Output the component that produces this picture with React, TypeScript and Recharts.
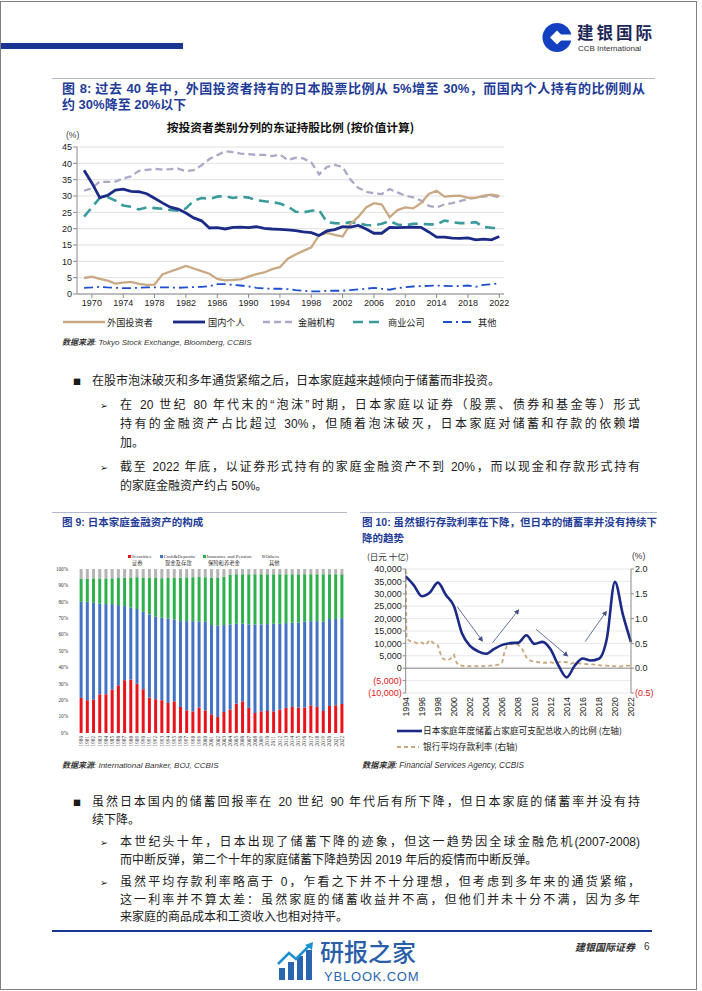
import React from 'react';
import { LineChart, Line, XAxis, YAxis, CartesianGrid, BarChart, Bar, ReferenceLine } from 'recharts';

const CJK = "'Noto Sans CJK SC', sans-serif";
const LAT = "'Liberation Sans', 'Noto Sans CJK SC', sans-serif";
const SERIF = "'Liberation Serif', 'Noto Sans CJK SC', serif";
const TITLE_BLUE = '#1f3c98';

// ---------------- Figure 8 data ----------------
const fig8Years = [1969, 1970, 1971, 1972, 1973, 1974, 1975, 1976, 1977, 1978, 1979, 1980, 1981, 1982, 1983, 1984, 1985, 1986, 1987, 1988, 1989, 1990, 1991, 1992, 1993, 1994, 1995, 1996, 1997, 1998, 1999, 2000, 2001, 2002, 2003, 2004, 2005, 2006, 2007, 2008, 2009, 2010, 2011, 2012, 2013, 2014, 2015, 2016, 2017, 2018, 2019, 2020, 2021, 2022];
const fig8XTicks = [1970, 1974, 1978, 1982, 1986, 1990, 1994, 1998, 2002, 2006, 2010, 2014, 2018, 2022];
const fig8YTicks = [0, 5, 10, 15, 20, 25, 30, 35, 40, 45];
const foreignInvestors = [4.9, 5.3, 4.6, 4.1, 3.2, 3.5, 3.7, 3.1, 2.8, 2.9, 6.0, 6.9, 7.7, 8.6, 7.8, 7.0, 6.2, 4.6, 4.2, 4.3, 4.5, 5.3, 6.1, 6.6, 7.6, 8.2, 10.8, 12.1, 13.2, 14.3, 18.0, 18.7, 18.1, 17.6, 21.4, 23.6, 26.5, 27.8, 27.4, 23.5, 25.7, 26.5, 26.2, 27.8, 30.6, 31.6, 29.8, 30.0, 30.1, 29.4, 29.4, 30.1, 30.4, 30.0];
const domesticIndividuals = [37.9, 34.0, 29.5, 30.2, 31.8, 32.1, 31.4, 31.3, 30.7, 29.3, 27.9, 26.6, 26.0, 24.8, 23.3, 22.4, 20.2, 20.3, 19.9, 20.4, 20.5, 20.3, 20.6, 20.1, 19.9, 19.8, 19.6, 19.4, 19.0, 18.8, 17.9, 19.3, 19.7, 20.6, 20.5, 21.0, 19.9, 18.6, 18.6, 20.4, 20.3, 20.4, 20.5, 20.4, 19.0, 17.4, 17.4, 17.1, 17.0, 17.2, 16.6, 16.8, 16.6, 17.6];
const financialInstitutions = [31.6, 32.4, 34.4, 34.3, 34.4, 35.4, 36.0, 37.7, 38.0, 38.3, 38.1, 38.2, 38.4, 37.6, 37.9, 39.4, 41.3, 42.5, 43.7, 43.4, 43.0, 42.8, 42.6, 42.6, 42.2, 42.7, 41.0, 41.7, 41.5, 40.3, 36.6, 38.9, 39.5, 38.9, 35.0, 32.5, 31.3, 30.8, 30.6, 32.1, 31.1, 30.1, 29.6, 28.6, 27.0, 26.5, 27.4, 27.8, 28.4, 29.1, 29.4, 29.8, 30.1, 29.6];
const businessCorporations = [23.7, 26.5, 29.4, 29.7, 28.6, 27.1, 26.7, 25.9, 26.5, 26.3, 26.1, 25.7, 25.5, 26.2, 28.6, 29.4, 29.1, 29.8, 30.0, 29.4, 29.8, 29.5, 28.7, 28.4, 28.1, 27.7, 26.8, 25.2, 25.0, 25.5, 25.7, 22.0, 21.7, 21.5, 22.0, 21.7, 21.1, 21.0, 21.5, 22.3, 21.3, 21.0, 21.5, 21.5, 21.3, 21.3, 22.5, 22.0, 21.7, 21.7, 22.0, 20.5, 20.3, 19.9];
const otherHolders = [1.9, 2.0, 2.2, 2.0, 1.9, 1.8, 1.8, 1.9, 2.0, 2.0, 2.0, 2.0, 1.9, 2.0, 2.1, 2.2, 2.4, 3.0, 3.0, 2.8, 2.6, 2.3, 1.9, 1.7, 1.6, 1.6, 1.5, 1.2, 1.0, 0.8, 0.8, 1.0, 1.0, 1.0, 1.2, 1.4, 1.6, 1.9, 1.6, 1.3, 1.8, 2.1, 2.3, 2.4, 2.5, 2.6, 2.5, 2.4, 2.4, 2.6, 2.2, 2.8, 3.0, 3.3];
const fig8Names = ['外国投资者', '国内个人', '金融机构', '商业公司', '其他'];

// ---------------- Figure 9 data ----------------
const fig9Years = ['1980', '1981', '1982', '1983', '1984', '1985', '1986', '1987', '1988', '1989', '1990', '1991', '1992', '1993', '1994', '1995', '1996', '1997', '1998', '1999', '2000', '2001', '2002', '2003', '2004', '2005', '2006', '2007', '2008', '2009', '2010', '2011', '2012', '2013', '2014', '2015', '2016', '2017', '2018', '2019', '2020', '2021', '2022'];
const securities = [21.4, 20.0, 20.4, 23.6, 23.6, 26.5, 29.1, 32.2, 32.6, 30.1, 26.7, 21.6, 20.6, 20.0, 18.3, 19.3, 15.9, 13.8, 13.2, 15.5, 13.8, 11.4, 9.8, 12.8, 14.3, 17.9, 19.3, 15.3, 12.2, 13.2, 13.4, 13.2, 14.3, 15.3, 15.9, 15.5, 15.5, 16.9, 15.9, 13.4, 16.5, 16.9, 17.7];
const cashDeposits = [58.6, 60.0, 59.0, 55.4, 55.0, 52.1, 48.9, 45.2, 44.0, 45.5, 47.2, 50.7, 50.3, 50.3, 51.6, 49.9, 52.3, 54.4, 55.0, 52.3, 54.0, 54.4, 55.6, 53.0, 51.9, 48.7, 47.5, 50.9, 54.0, 53.0, 53.0, 53.4, 52.3, 51.7, 51.3, 51.9, 52.3, 51.3, 52.3, 54.4, 53.0, 52.6, 52.3];
const insurancePension = [14.0, 14.0, 14.9, 15.3, 15.7, 15.7, 16.5, 17.2, 18.2, 19.4, 20.9, 22.3, 23.6, 24.1, 24.6, 25.4, 26.5, 26.7, 26.8, 27.3, 27.2, 29.0, 29.1, 29.4, 30.3, 30.2, 30.0, 30.6, 30.6, 30.6, 30.4, 30.2, 30.2, 29.8, 29.6, 29.4, 29.0, 28.6, 28.6, 29.0, 27.3, 27.3, 26.8];
const otherAssets = [6.0, 6.0, 5.7, 5.7, 5.7, 5.7, 5.5, 5.4, 5.2, 5.0, 5.2, 5.4, 5.5, 5.6, 5.5, 5.4, 5.3, 5.1, 5.0, 4.9, 5.0, 5.2, 5.5, 4.8, 3.5, 3.2, 3.2, 3.2, 3.2, 3.2, 3.2, 3.2, 3.2, 3.2, 3.2, 3.2, 3.2, 3.2, 3.2, 3.2, 3.2, 3.2, 3.2];
const fig9YTicks = [0, 10, 20, 30, 40, 50, 60, 70, 80, 90, 100];

// ---------------- Figure 10 data ----------------
const fig10Years = [1994, 1995, 1996, 1997, 1998, 1999, 2000, 2001, 2002, 2003, 2004, 2005, 2006, 2007, 2008, 2009, 2010, 2011, 2012, 2013, 2014, 2015, 2016, 2017, 2018, 2019, 2020, 2021, 2022];
const householdSavings = [37000, 33500, 29000, 30500, 34500, 29500, 25000, 14000, 9000, 6800, 5800, 7800, 9400, 10100, 10300, 13300, 9800, 10600, 7600, 1000, -3700, 1000, 3900, 3100, 3800, 12000, 34800, 21500, 10500];
const rateDates = [1994.0, 1994.1, 1994.5, 1995.0, 1995.5, 1996.0, 1996.5, 1997.0, 1997.5, 1998.0, 1998.3, 1998.6, 1999.0, 1999.5, 2000.0, 2000.3, 2000.6, 2001.0, 2001.5, 2002.0, 2002.5, 2003.0, 2003.5, 2004.0, 2004.5, 2005.0, 2005.5, 2006.0, 2006.3, 2006.6, 2007.0, 2007.5, 2008.0, 2008.5, 2009.0, 2009.5, 2010.0, 2010.5, 2011.0, 2011.5, 2012.0, 2012.5, 2013.0, 2013.5, 2014.0, 2014.5, 2015.0, 2015.5, 2016.0, 2016.5, 2017.0, 2017.5, 2018.0, 2018.5, 2019.0, 2019.5, 2020.0, 2020.5, 2021.0, 2021.5, 2022.0];
const depositRate = [1.98, 0.60, 0.55, 0.53, 0.50, 0.52, 0.47, 0.57, 0.50, 0.46, 0.30, 0.20, 0.16, 0.18, 0.27, 0.12, 0.06, 0.05, 0.04, 0.04, 0.04, 0.04, 0.04, 0.04, 0.05, 0.05, 0.07, 0.12, 0.35, 0.45, 0.48, 0.50, 0.47, 0.38, 0.22, 0.15, 0.13, 0.12, 0.11, 0.11, 0.12, 0.10, 0.12, 0.13, 0.12, 0.09, 0.11, 0.10, 0.09, 0.08, 0.08, 0.07, 0.06, 0.05, 0.05, 0.04, 0.04, 0.03, 0.04, 0.05, 0.05];
const fig10XTicks = [1994, 1996, 1998, 2000, 2002, 2004, 2006, 2008, 2010, 2012, 2014, 2016, 2018, 2020, 2022];
const fig10LeftTicks = [-10000, -5000, 0, 5000, 10000, 15000, 20000, 25000, 30000, 35000, 40000];
const fig10RightTicks = [-0.5, 0, 0.5, 1.0, 1.5, 2.0];
const trendArrows = [
  { x1: 2000.4, y1: 24800, x2: 2003.6, y2: 10700 },
  { x1: 2004.8, y1: 10300, x2: 2008.1, y2: 23800 },
  { x1: 2010.2, y1: 15700, x2: 2014.2, y2: 4700 },
  { x1: 2016.3, y1: 10700, x2: 2019.0, y2: 23200 },
];

const fig8Data = fig8Years.map((yr, i) => ({
  year: yr,
  fi: foreignInvestors[i],
  di: domesticIndividuals[i],
  fin: financialInstitutions[i],
  bc: businessCorporations[i],
  oth: otherHolders[i],
}));
const fig9Data = fig9Years.map((yr, i) => ({
  year: yr,
  sec: securities[i],
  cash: cashDeposits[i],
  ins: insurancePension[i],
  oth: otherAssets[i],
}));
const savingsData = fig10Years.map((yr, i) => ({ x: yr, y: householdSavings[i] }));
const rateData = rateDates.map((d, i) => ({ x: d, y: depositRate[i] }));

// ---------------- helpers ----------------
function Txt({ x, y, size, lh, children, style }: any) {
  const h = lh || Math.round(size * 1.4);
  return (
    <div
      style={{
        position: 'absolute',
        left: x,
        top: y - h / 2,
        fontSize: size,
        lineHeight: h + 'px',
        whiteSpace: 'nowrap',
        fontFamily: LAT,
        color: '#1a1a1a',
        ...style,
      }}
    >
      {children}
    </div>
  );
}

const BODY = 12;

function JLine({ x, y, w, size, children, style }: any) {
  return (
    <Txt x={x} y={y} size={size || BODY} style={{ width: w, textAlign: 'justify', textAlignLast: 'justify', whiteSpace: 'nowrap', ...style }}>
      {children}
    </Txt>
  );
}

function LegendSample({ x, y, w, color, width, dash }: any) {
  return (
    <svg style={{ position: 'absolute', left: x, top: y - 5 }} width={w} height={10}>
      <line x1={0} y1={5} x2={w} y2={5} stroke={color} strokeWidth={width} strokeDasharray={dash} />
    </svg>
  );
}

const fmtThousands = (v: number) => {
  const a = Math.abs(v);
  const s = a >= 1000 ? Math.floor(a / 1000) + ',' + String(a % 1000).padStart(3, '0') : String(a);
  return v < 0 ? '(' + s + ')' : s;
};

const Fig10LeftTick = (p: any) => {
  const v = p.payload.value;
  return (
    <text x={p.x} y={p.y} dy="0.35em" textAnchor="end" fontSize={9} fontFamily={LAT} fill={v < 0 ? '#e0201c' : '#222'}>
      {fmtThousands(v)}
    </text>
  );
};
const Fig10RightTick = (p: any) => {
  const v = p.payload.value;
  const s = v < 0 ? '(' + Math.abs(v).toFixed(1) + ')' : v.toFixed(1);
  return (
    <text x={p.x} y={p.y} dy="0.35em" textAnchor="start" fontSize={9} fontFamily={LAT} fill={v < 0 ? '#e0201c' : '#222'}>
      {s}
    </text>
  );
};
const Fig10XTick = (p: any) => (
  <text transform={`translate(${p.x},${p.y}) rotate(-90)`} dy="0.35em" textAnchor="end" fontSize={8.8} fontFamily={LAT} fill="#222">
    {p.payload.value}
  </text>
);
const Fig9XTick = (p: any) => (
  <text transform={`translate(${p.x},${p.y}) rotate(-90)`} dy="0.35em" textAnchor="end" fontSize={5.2} fontFamily={SERIF} fill="#333">
    {p.payload.value}
  </text>
);

const arrowShape = (props: any) => {
  const { x1, y1, x2, y2 } = props;
  const dx = x2 - x1;
  const dy = y2 - y1;
  const len = Math.sqrt(dx * dx + dy * dy) || 1;
  const ux = dx / len;
  const uy = dy / len;
  const hl = 5;
  const hw = 2.6;
  const bx = x2 - ux * hl;
  const by = y2 - uy * hl;
  const pts = `${x2},${y2} ${bx - uy * hw},${by + ux * hw} ${bx + uy * hw},${by - ux * hw}`;
  return (
    <g>
      <line x1={x1} y1={y1} x2={bx} y2={by} stroke="#3d4b86" strokeWidth={0.8} />
      <polygon points={pts} fill="#3d4b86" />
    </g>
  );
};

const ARROW_FONT = { fontFamily: "'DejaVu Sans', sans-serif" };

// ---------------- App ----------------
export default function App() {
  return (
    <div style={{ position: 'absolute', left: 0, top: 0, width: 702, height: 991, background: '#fff', overflow: 'hidden', fontFamily: LAT }}>
      {/* page frame */}
      <div style={{ position: 'absolute', left: 0, top: 1, width: 697, height: 989, border: '1.5px solid #808080', boxSizing: 'border-box' }} />

      {/* header */}
      <div style={{ position: 'absolute', left: 1, top: 43, width: 182, height: 5.5, background: '#1a3591' }} />
      <svg style={{ position: 'absolute', left: 542, top: 21 }} width={30} height={33}>
        <circle cx={15} cy={16.5} r={14.5} fill="#1240c0" />
        <rect x={15} y={13.5} width={16} height={6} fill="#fff" />
        <polygon points="15,9.5 22,16.5 15,23.5 8,16.5" fill="#fff" />
      </svg>
      <Txt x={577} y={31.5} size={16.5} lh={16} style={{ fontFamily: CJK, fontWeight: 700, letterSpacing: 3, color: '#1c2756' }}>建银国际</Txt>
      <Txt x={578} y={48.5} size={8} lh={8} style={{ color: '#333' }}>CCB International</Txt>

      {/* Figure 8 */}
      <div style={{ position: 'absolute', left: 52, top: 77.5, width: 603, height: 1.3, background: '#b3b8cc' }} />
      <JLine x={62} y={88.5} w={583} size={13} style={{ fontWeight: 700, color: TITLE_BLUE }}>
        图 8: 过去 40 年中，外国投资者持有的日本股票比例从 5%增至 30%，而国内个人持有的比例则从
      </JLine>
      <Txt x={62} y={105} size={13} style={{ fontWeight: 700, color: TITLE_BLUE }}>
        约 30%降至 20%以下
      </Txt>
      <div style={{ position: 'absolute', left: 77, width: 427, top: 118, textAlign: 'center', fontSize: 11.8, lineHeight: '18px', fontWeight: 700, fontFamily: CJK, color: '#111' }}>
        按投资者类别分列的东证持股比例 (按价值计算)
      </div>
      <Txt x={66} y={135} size={8.5} style={{ color: '#444' }}>(%)</Txt>
      <div style={{ position: 'absolute', left: 50, top: 135 }}>
        <LineChart width={470} height={180} data={fig8Data} margin={{ top: 12, right: 16, left: 0, bottom: 0 }}>
          <CartesianGrid vertical={false} stroke="#d9d9d9" strokeWidth={0.8} />
          <XAxis
            dataKey="year"
            type="number"
            domain={[1968.1, 2022.6]}
            ticks={fig8XTicks}
            interval={0}
            height={21}
            tickSize={4}
            tickMargin={2}
            stroke="#8a8a8a"
            tick={{ fontSize: 9, fill: '#222', fontFamily: LAT }}
          />
          <YAxis
            domain={[0, 45]}
            ticks={fig8YTicks}
            interval={0}
            width={27}
            tickSize={4}
            tickMargin={1}
            stroke="#8a8a8a"
            tick={{ fontSize: 9, fill: '#222', fontFamily: LAT }}
          />
          <Line type="linear" dataKey="fin" name={fig8Names[2]} stroke="#a9a9c8" strokeWidth={2.3} strokeDasharray="7 4" dot={false} isAnimationActive={false} />
          <Line type="linear" dataKey="bc" name={fig8Names[3]} stroke="#3a9a9c" strokeWidth={2.6} strokeDasharray="10 6" dot={false} isAnimationActive={false} />
          <Line type="linear" dataKey="oth" name={fig8Names[4]} stroke="#1d4fd0" strokeWidth={1.8} strokeDasharray="9 4 2 4" dot={false} isAnimationActive={false} />
          <Line type="linear" dataKey="fi" name={fig8Names[0]} stroke="#c9a983" strokeWidth={2.3} dot={false} isAnimationActive={false} />
          <Line type="linear" dataKey="di" name={fig8Names[1]} stroke="#1b2a86" strokeWidth={2.8} dot={false} isAnimationActive={false} />
        </LineChart>
      </div>
      {/* Figure 8 legend */}
      <LegendSample x={63} y={322} w={42} color="#c9a983" width={2.3} />
      <Txt x={107} y={322} size={9.2} style={{ fontFamily: CJK }}>{fig8Names[0]}</Txt>
      <LegendSample x={173} y={322} w={32} color="#1b2a86" width={2.8} />
      <Txt x={208} y={322} size={9.2} style={{ fontFamily: CJK }}>{fig8Names[1]}</Txt>
      <LegendSample x={263} y={322} w={32} color="#a9a9c8" width={2.3} dash="7 4" />
      <Txt x={298} y={322} size={9.2} style={{ fontFamily: CJK }}>{fig8Names[2]}</Txt>
      <LegendSample x={353} y={322} w={30} color="#3a9a9c" width={2.6} dash="10 6" />
      <Txt x={388} y={322} size={9.2} style={{ fontFamily: CJK }}>{fig8Names[3]}</Txt>
      <LegendSample x={443} y={322} w={29} color="#1d4fd0" width={1.8} dash="9 4 2 4" />
      <Txt x={478} y={322} size={9.2} style={{ fontFamily: CJK }}>{fig8Names[4]}</Txt>
      <Txt x={62} y={342} size={8} style={{ fontStyle: 'italic', color: '#333' }}>
        <span style={{ fontWeight: 700 }}>数据来源</span>: Tokyo Stock Exchange, Bloomberg, CCBIS
      </Txt>

      {/* Text block 1 */}
      <Txt x={73} y={381} size={8} style={{ fontFamily: CJK }}>■</Txt>
      <Txt x={92} y={381.5} size={BODY}>在股市泡沫破灭和多年通货紧缩之后，日本家庭越来越倾向于储蓄而非投资。</Txt>
      <Txt x={100} y={405} size={9.5} style={ARROW_FONT}>➢</Txt>
      <JLine x={120} y={405} w={520}>在 20 世纪 80 年代末的“泡沫”时期，日本家庭以证券（股票、债券和基金等）形式</JLine>
      <JLine x={120} y={424} w={520}>持有的金融资产占比超过 30%，但随着泡沫破灭，日本家庭对储蓄和存款的依赖增</JLine>
      <Txt x={120} y={443} size={BODY}>加。</Txt>
      <Txt x={100} y={467} size={9.5} style={ARROW_FONT}>➢</Txt>
      <JLine x={120} y={467} w={520}>截至 2022 年底，以证券形式持有的家庭金融资产不到 20%，而以现金和存款形式持有</JLine>
      <Txt x={120} y={486} size={BODY}>的家庭金融资产约占 50%。</Txt>

      {/* Figure 9 */}
      <div style={{ position: 'absolute', left: 52, top: 512, width: 295, height: 1.3, background: '#b3b8cc' }} />
      <Txt x={62} y={522} size={10.5} style={{ fontWeight: 700, color: TITLE_BLUE }}>图 9: 日本家庭金融资产的构成</Txt>
      <div style={{ position: 'absolute', left: 128, top: 555.3, width: 2.8, height: 2.8, background: '#e8141c' }} />
      <Txt x={131.5} y={556.7} size={5} style={{ fontFamily: SERIF, color: '#333' }}>Securities</Txt>
      <div style={{ position: 'absolute', left: 160, top: 555.3, width: 2.8, height: 2.8, background: '#4472c4' }} />
      <Txt x={163.5} y={556.7} size={5} style={{ fontFamily: SERIF, color: '#333' }}>Cash&amp;Deposits</Txt>
      <div style={{ position: 'absolute', left: 203, top: 555.3, width: 2.8, height: 2.8, background: '#2eb04c' }} />
      <Txt x={206.5} y={556.7} size={5} style={{ fontFamily: SERIF, color: '#333' }}>Insurance and Pension</Txt>
      <div style={{ position: 'absolute', left: 262, top: 555.3, width: 2.8, height: 2.8, background: '#b4b4b4' }} />
      <Txt x={265.5} y={556.7} size={5} style={{ fontFamily: SERIF, color: '#333' }}>Others</Txt>
      <Txt x={132} y={563.5} size={5.3} style={{ fontFamily: CJK, color: '#333' }}>证券</Txt>
      <Txt x={165} y={563.5} size={5.3} style={{ fontFamily: CJK, color: '#333' }}>现金及存款</Txt>
      <Txt x={208} y={563.5} size={5.3} style={{ fontFamily: CJK, color: '#333' }}>保险和养老金</Txt>
      <Txt x={269} y={563.5} size={5.3} style={{ fontFamily: CJK, color: '#333' }}>其他</Txt>
      <div style={{ position: 'absolute', left: 50, top: 560 }}>
        <BarChart width={300} height={195} data={fig9Data} margin={{ top: 9, right: 5, left: 0, bottom: 0 }} barCategoryGap="26%">
          <XAxis dataKey="year" interval={0} height={22} axisLine={false} tickLine={false} tickSize={0} tickMargin={3} tick={<Fig9XTick />} />
          <YAxis
            domain={[0, 100]}
            ticks={fig9YTicks}
            interval={0}
            width={28}
            axisLine={false}
            tickLine={false}
            tickMargin={4}
            tickFormatter={(v: number) => v + '%'}
            tick={{ fontSize: 5.2, fill: '#333', fontFamily: SERIF }}
          />
          <Bar dataKey="sec" stackId="a" fill="#e8141c" isAnimationActive={false} />
          <Bar dataKey="cash" stackId="a" fill="#4472c4" isAnimationActive={false} />
          <Bar dataKey="ins" stackId="a" fill="#2eb04c" isAnimationActive={false} />
          <Bar dataKey="oth" stackId="a" fill="#b4b4b4" isAnimationActive={false} />
        </BarChart>
      </div>
      <Txt x={62} y={765} size={8} style={{ fontStyle: 'italic', color: '#333' }}>
        <span style={{ fontWeight: 700 }}>数据来源</span>: International Banker, BOJ, CCBIS
      </Txt>

      {/* Figure 10 */}
      <div style={{ position: 'absolute', left: 360, top: 512, width: 297, height: 1.3, background: '#b3b8cc' }} />
      <JLine x={362} y={522} w={295} size={10.5} style={{ fontWeight: 700, color: TITLE_BLUE }}>图 10: 虽然银行存款利率在下降，但日本的储蓄率并没有持续下</JLine>
      <Txt x={362} y={538} size={10.5} style={{ fontWeight: 700, color: TITLE_BLUE }}>降的趋势</Txt>
      <Txt x={367} y={556} size={8.5} style={{ fontFamily: CJK, color: '#333' }}>(日元 十亿)</Txt>
      <Txt x={632} y={556} size={8.5} style={{ color: '#333' }}>(%)</Txt>
      <div style={{ position: 'absolute', left: 360, top: 560 }}>
        <LineChart width={300} height={162} margin={{ top: 9, right: 0, left: 0, bottom: 0 }}>
          <CartesianGrid vertical={false} yAxisId="left" stroke="#e2e2e2" strokeWidth={0.8} />
          <XAxis
            dataKey="x"
            type="number"
            domain={[1994, 2022]}
            ticks={fig10XTicks}
            interval={0}
            height={29}
            axisLine={false}
            tickLine={false}
            tickSize={0}
            tickMargin={4}
            tick={<Fig10XTick />}
            allowDuplicatedCategory={false}
          />
          <YAxis
            yAxisId="left"
            domain={[-10000, 40000]}
            ticks={fig10LeftTicks}
            interval={0}
            width={45.7}
            tickSize={3}
            tickMargin={1}
            stroke="#8a8a8a"
            tick={<Fig10LeftTick />}
          />
          <YAxis
            yAxisId="right"
            orientation="right"
            domain={[-0.5, 2.0]}
            ticks={fig10RightTicks}
            interval={0}
            width={29}
            tickSize={3}
            tickMargin={1}
            stroke="#8a8a8a"
            tick={<Fig10RightTick />}
          />
          <ReferenceLine y={0} yAxisId="left" stroke="#8a8a8a" strokeWidth={1} />
          <Line yAxisId="right" data={rateData} dataKey="y" type="linear" stroke="#c9a77e" strokeWidth={1.8} strokeDasharray="4 3" dot={false} isAnimationActive={false} />
          <Line yAxisId="left" data={savingsData} dataKey="y" type="monotone" stroke="#1b2a86" strokeWidth={2.6} dot={false} isAnimationActive={false} />
          {trendArrows.map((a, i) => (
            <ReferenceLine
              key={i}
              yAxisId="left"
              segment={[{ x: a.x1, y: a.y1 }, { x: a.x2, y: a.y2 }]}
              shape={arrowShape}
              ifOverflow="visible"
            />
          ))}
        </LineChart>
      </div>
      <LegendSample x={397} y={731} w={25} color="#1b2a86" width={2.6} />
      <Txt x={423} y={731} size={8.7} style={{ fontFamily: CJK }}>日本家庭年度储蓄占家庭可支配总收入的比例 (左轴)</Txt>
      <LegendSample x={397} y={747} w={22} color="#c9a77e" width={1.8} dash="4 3" />
      <Txt x={423} y={747} size={8.7} style={{ fontFamily: CJK }}>银行平均存款利率 (右轴)</Txt>
      <Txt x={362} y={765} size={8.2} style={{ fontStyle: 'italic', color: '#333' }}>
        <span style={{ fontWeight: 700 }}>数据来源</span>: Financial Services Agency, CCBIS
      </Txt>

      {/* Text block 2 */}
      <Txt x={73} y={802} size={8} style={{ fontFamily: CJK }}>■</Txt>
      <JLine x={92} y={802.5} w={548}>虽然日本国内的储蓄回报率在 20 世纪 90 年代后有所下降，但日本家庭的储蓄率并没有持</JLine>
      <Txt x={92} y={820.5} size={BODY}>续下降。</Txt>
      <Txt x={100} y={842.5} size={9.5} style={ARROW_FONT}>➢</Txt>
      <JLine x={120} y={842.5} w={520}>本世纪头十年，日本出现了储蓄下降的迹象，但这一趋势因全球金融危机(2007-2008)</JLine>
      <Txt x={120} y={860.5} size={BODY}>而中断反弹，第二个十年的家庭储蓄下降趋势因 2019 年后的疫情而中断反弹。</Txt>
      <Txt x={100} y={882} size={9.5} style={ARROW_FONT}>➢</Txt>
      <JLine x={120} y={882} w={520}>虽然平均存款利率略高于 0，乍看之下并不十分理想，但考虑到多年来的通货紧缩，</JLine>
      <JLine x={120} y={900} w={520}>这一利率并不算太差：虽然家庭的储蓄收益并不高，但他们并未十分不满，因为多年</JLine>
      <Txt x={120} y={917} size={BODY}>来家庭的商品成本和工资收入也相对持平。</Txt>

      {/* Footer */}
      <div style={{ position: 'absolute', left: 52, top: 930, width: 600, height: 2, background: '#1a3591' }} />
      <Txt x={575} y={947} size={10} style={{ fontStyle: 'italic', fontWeight: 700, fontFamily: CJK, color: '#333' }}>建银国际证券</Txt>
      <Txt x={644} y={947} size={10} style={{ color: '#333' }}>6</Txt>
      <svg style={{ position: 'absolute', left: 277, top: 942 }} width={40} height={40}>
        <rect x={2} y={26} width={6} height={12} fill="#2a66b0" />
        <rect x={11} y={20} width={6} height={18} fill="#2a66b0" />
        <rect x={20} y={14} width={6} height={24} fill="#2a66b0" />
        <rect x={29} y={8} width={6} height={30} fill="#2a66b0" />
        <polyline points="1,22 12,11 19,17 33,3" fill="none" stroke="#1f8fd0" strokeWidth={2.5} />
        <polygon points="36,0 35,8 28,3" fill="#1f8fd0" />
      </svg>
      <Txt x={320} y={951} size={24} lh={24} style={{ fontFamily: CJK, color: '#2a5ea8', fontWeight: 500 }}>研报之家</Txt>
      <Txt x={324} y={977} size={13} lh={12} style={{ color: '#2a66b0', letterSpacing: 0.8 }}>YBLOOK.COM</Txt>
    </div>
  );
}
